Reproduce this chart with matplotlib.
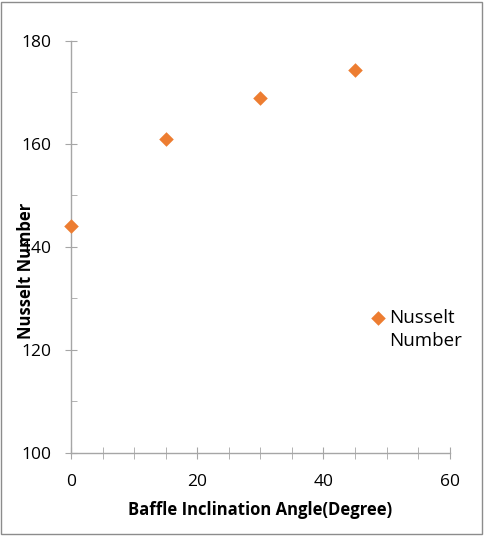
import matplotlib
matplotlib.use("Agg")
import matplotlib.pyplot as plt
from matplotlib.patches import Rectangle
from matplotlib.ticker import MultipleLocator
from matplotlib.collections import PathCollection
from matplotlib.legend_handler import HandlerPathCollection

angles = [0, 15, 30, 45]
nusselt = [144, 161, 169, 174.3]
series_name = "Nusselt\nNumber"
x_label = "Baffle Inclination Angle(Degree)"
y_label = "Nusselt Number"

plt.rcParams['font.family'] = ['Open Sans', 'DejaVu Sans']

fig = plt.figure(figsize=(4.84, 5.36), dpi=100)
fig.patches.append(Rectangle((0.003, 0.003), 0.993, 0.994, transform=fig.transFigure,
                             fill=False, edgecolor='#8c8c8c', linewidth=1.0))
ax = fig.add_axes([0.1467, 0.1554, 0.7823, 0.7681])

ax.scatter(angles, nusselt, marker='D', s=55, color='#ED7D31', zorder=3, clip_on=False,
           linewidths=0, label=series_name)

ax.set_xlim(0, 60)
ax.set_ylim(100, 180)
ax.xaxis.set_major_locator(MultipleLocator(20))
ax.xaxis.set_minor_locator(MultipleLocator(5))
ax.yaxis.set_major_locator(MultipleLocator(20))
ax.yaxis.set_minor_locator(MultipleLocator(10))

for s in ['top', 'right']:
    ax.spines[s].set_visible(False)
for s in ['left', 'bottom']:
    ax.spines[s].set_color('#a6a6a6')
    ax.spines[s].set_linewidth(1.0)

ax.tick_params(axis='x', which='both', direction='inout', length=8, color='#a6a6a6',
               labelsize=12.5, pad=11)
ax.tick_params(axis='y', which='major', direction='inout', length=8, color='#a6a6a6',
               labelsize=12.5, pad=10)
ax.tick_params(axis='y', which='minor', direction='in', length=4, color='#a6a6a6')

ax.set_xlabel(x_label, fontsize=12, fontweight='bold', labelpad=8)
ax.set_ylabel(y_label, fontsize=12, fontweight='bold')
ax.yaxis.set_label_coords(-0.096, 0.441)

leg = ax.legend(loc='upper left', bbox_to_anchor=(0.781, 0.349), frameon=False,
                fontsize=13.5, handletextpad=0.0, handlelength=1.2, scatterpoints=1,
                borderaxespad=0, borderpad=0,
                handler_map={PathCollection: HandlerPathCollection(yoffsets=[1.45])})
for t in leg.get_texts():
    t.set_linespacing(1.37)

fig.savefig("out.png", dpi=100)
